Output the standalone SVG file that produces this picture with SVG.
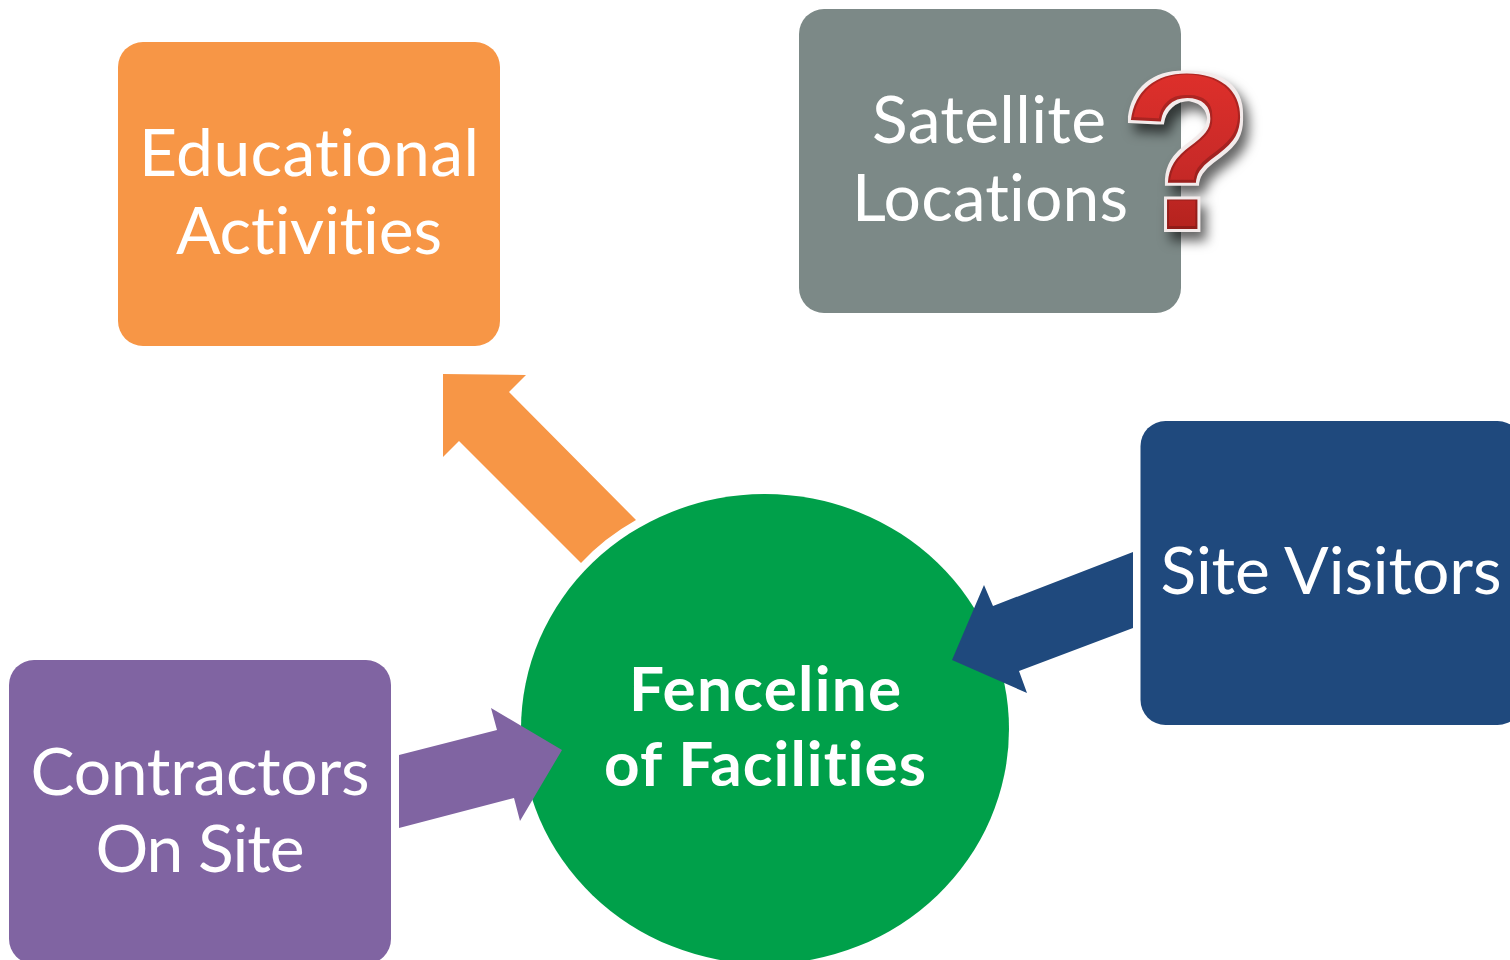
<svg xmlns="http://www.w3.org/2000/svg" width="1510" height="960" viewBox="0 0 1510 960">
<style>
text{font-family:"Lato","Liberation Sans",sans-serif;fill:#fff;text-anchor:middle;font-variant-ligatures:none}
.t{font-size:66px}
.b{font-size:62px;font-weight:700}
.q{font-family:"Liberation Sans",sans-serif;font-weight:700;font-size:222px;fill:url(#qg);text-anchor:start}
</style>
<defs>
<linearGradient id="qg" x1="0" y1="0" x2="0" y2="1"><stop offset="0" stop-color="#e8322c"/><stop offset=".55" stop-color="#c92a28"/><stop offset="1" stop-color="#a51d16"/></linearGradient>
<filter id="bevel" x="-30%" y="-20%" width="170%" height="150%" color-interpolation-filters="sRGB">
<feMorphology in="SourceAlpha" operator="dilate" radius="3" result="fat"/>
<feOffset in="fat" dx="6" dy="9" result="off"/>
<feGaussianBlur in="off" stdDeviation="6" result="bl"/>
<feFlood flood-color="#000" flood-opacity=".6"/>
<feComposite in2="bl" operator="in" result="shadow"/>
<feFlood flood-color="#f3ebeb"/>
<feComposite in2="fat" operator="in" result="rim"/>
<feColorMatrix in="SourceGraphic" type="matrix" values=".8 0 0 0 0 0 .8 0 0 0 0 0 .8 0 0 0 0 0 1 0" result="dark"/>
<feMorphology in="SourceAlpha" operator="erode" radius="2" result="thin"/>
<feOffset in="thin" dx="0" dy="-1" result="thinup"/>
<feComposite in="SourceGraphic" in2="thinup" operator="in" result="face"/>
<feMerge><feMergeNode in="shadow"/><feMergeNode in="rim"/><feMergeNode in="dark"/><feMergeNode in="face"/></feMerge>
</filter>
</defs>
<g id="node-center"><ellipse cx="765" cy="729" rx="244" ry="235" fill="#00A04A"/><text class="b" x="765" y="711" textLength="272">Fenceline</text><text class="b" x="765" y="786" textLength="322">of Facilities</text></g>
<g id="connectors">
<path fill="#F79646" d="M443 374L526 375L509 392L636 520Q604 538 581 563L459 441L443 457Z"/>
<path fill="#1F497D" d="M1133 552L993 606L984 585L952 660L1027 693L1019 671L1133 628Z"/>
<path fill="#8064A2" d="M399 755L497 730L491 708L562 750L520 821L514 798L399 828Z"/>
</g>
<g id="node-educational"><rect x="118" y="42" width="382" height="304" rx="25" fill="#F79646"/><text class="t" x="309" y="176" textLength="340">Educational</text><text class="t" x="309" y="254" textLength="266">Activities</text></g>
<g id="node-satellite"><rect x="799" y="9" width="382" height="304" rx="25" fill="#7C8987"/><text class="t" x="989" y="143" textLength="234">Satellite</text><text class="t" x="990" y="221" textLength="276">Locations</text></g>
<g id="node-visitors"><rect x="1140.500" y="421" width="382" height="304" rx="25" fill="#1F497D"/><text class="t" x="1331" y="594" textLength="341">Site Visitors</text></g>
<g id="node-contractors"><rect x="9" y="660" width="382" height="304" rx="25" fill="#8064A2"/><text class="t" x="200" y="795" textLength="339">Contractors</text><text class="t" x="200" y="872" textLength="209">On Site</text></g>
<g id="question-mark"><text class="q" transform="translate(1121 229) scale(.97 1)" filter="url(#bevel)">?</text></g>
</svg>
